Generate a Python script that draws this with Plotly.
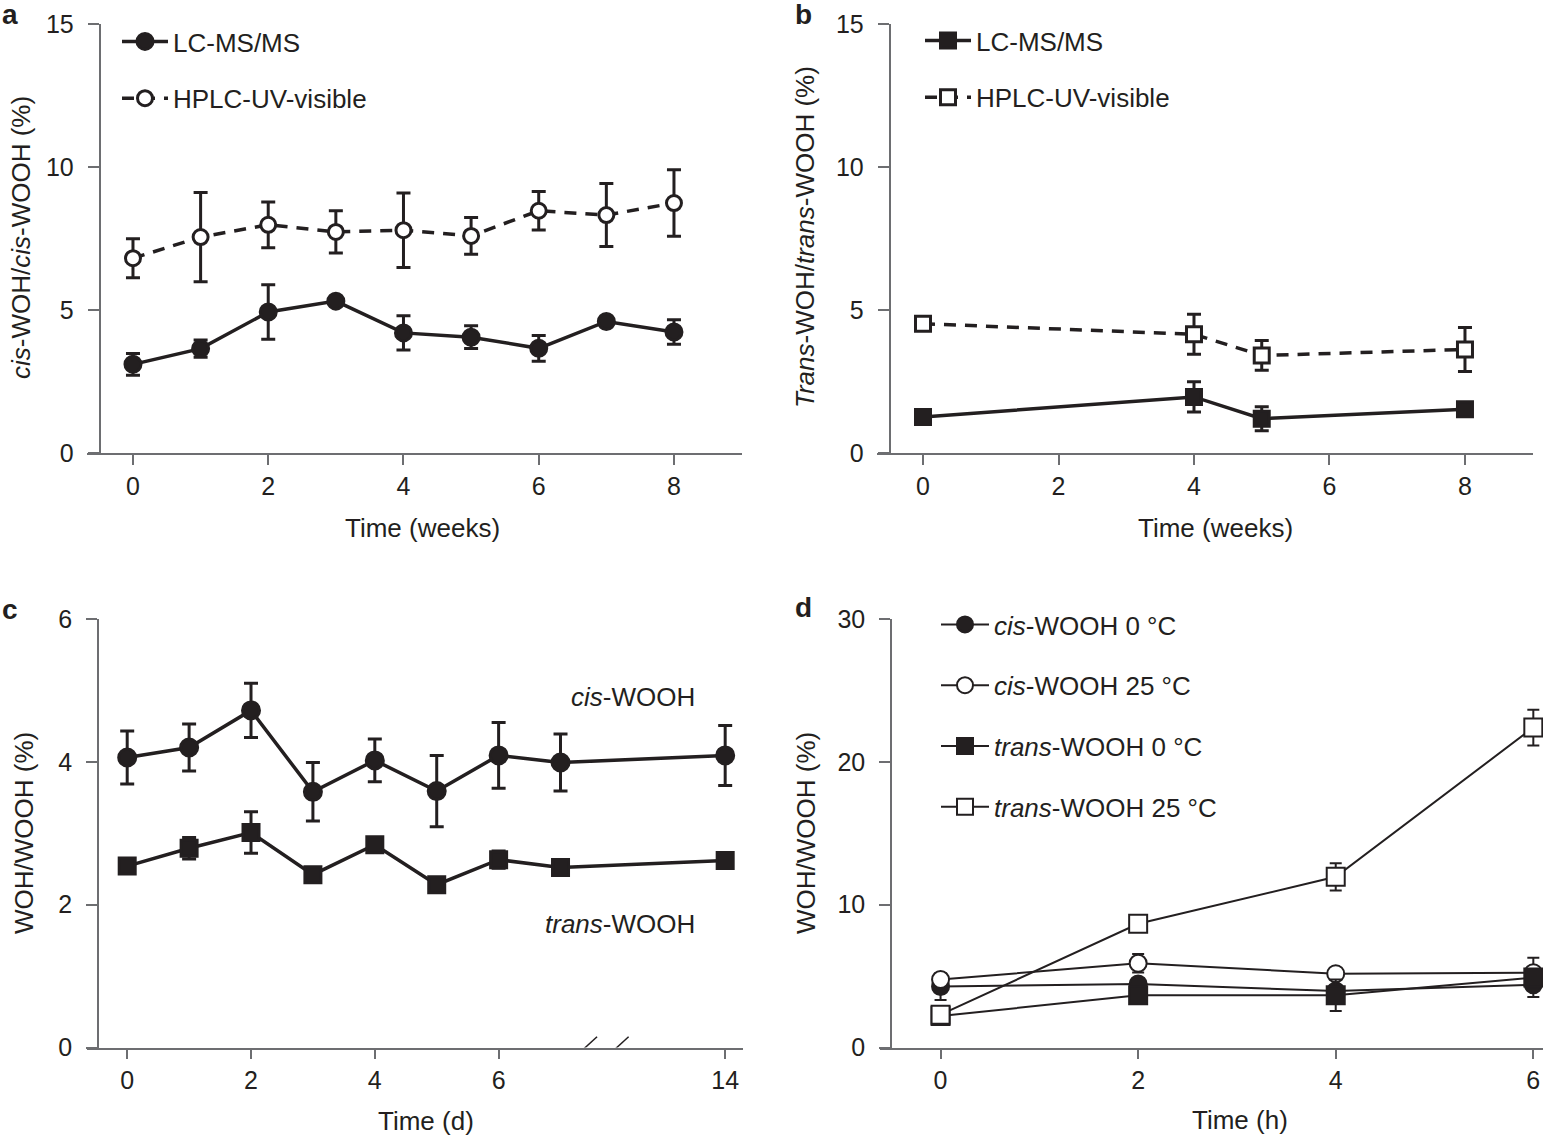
import plotly.graph_objects as go

# ---- data ----
# a: cis-WOH / cis-WOOH over weeks
a_weeks = [0, 1, 2, 3, 4, 5, 6, 7, 8]
a_lcms = [3.1, 3.65, 4.93, 5.31, 4.2, 4.05, 3.66, 4.6, 4.23]
a_lcms_err = [0.38, 0.3, 0.95, 0.0, 0.6, 0.4, 0.45, 0.0, 0.43]
a_hplc = [6.81, 7.55, 7.98, 7.73, 7.79, 7.59, 8.47, 8.32, 8.74]
a_hplc_err = [0.68, 1.56, 0.8, 0.74, 1.3, 0.64, 0.67, 1.1, 1.16]

# b: trans-WOH / trans-WOOH over weeks
b_weeks = [0, 4, 5, 8]
b_lcms = [1.26, 1.96, 1.2, 1.53]
b_lcms_err = [0.0, 0.53, 0.42, 0.0]
b_hplc = [4.52, 4.15, 3.41, 3.62]
b_hplc_err = [0.0, 0.7, 0.52, 0.77]

# c: WOH/WOOH over days (axis broken between 7 and 14)
c_days = [0, 1, 2, 3, 4, 5, 6, 7, 14]
c_cis = [4.06, 4.2, 4.72, 3.58, 4.02, 3.59, 4.09, 3.99, 4.09]
c_cis_err = [0.37, 0.33, 0.38, 0.41, 0.3, 0.5, 0.46, 0.4, 0.42]
c_trans = [2.54, 2.79, 3.01, 2.42, 2.84, 2.28, 2.63, 2.52, 2.62]
c_trans_err = [0.0, 0.15, 0.29, 0.0, 0.0, 0.0, 0.12, 0.0, 0.0]
c_tick_days = [0, 2, 4, 6, 14]

# d: WOH/WOOH over hours at two temperatures
d_hours = [0, 2, 4, 6]
d_cis0 = [4.27, 4.44, 3.95, 4.39]
d_cis0_err = [0.95, 0.4, 0.3, 0.85]
d_cis25 = [4.76, 5.9, 5.17, 5.24]
d_cis25_err = [0.3, 0.65, 0.4, 1.05]
d_trans0 = [2.2, 3.66, 3.66, 4.9]
d_trans0_err = [0.2, 0.3, 1.1, 0.3]
d_trans25 = [2.3, 8.66, 11.95, 22.4]
d_trans25_err = [0.2, 0.3, 0.95, 1.25]

W, H = 1543, 1138
INK = '#231f20'
AXC = '#6d6e71'
FONT = 'Liberation Sans, Arial, Helvetica, sans-serif'


def px_x(p):
    return min(max(p / W, 0), 1)


def px_y(p):
    return min(max(1 - p / H, 0), 1)


def c_pos(day):
    # compress everything after day 7 (axis break)
    return day if day <= 7 else 7 + (day - 7) * 0.38


c_breaks = [7.40, 7.91]

fig = go.Figure()


def add(x, y, err, xa, ya, name, symbol, fill, lw, dash, size, legend, cap, ethick, group):
    fig.add_trace(go.Scatter(
        x=x, y=y, name=name, mode='lines+markers',
        xaxis=xa, yaxis=ya, legend=legend, legendgroup=group,
        showlegend=legend is not None,
        line=dict(color=INK, width=lw, dash=dash),
        marker=dict(symbol=symbol, size=size, color=fill,
                    line=dict(color=INK, width=3 if lw > 2.5 else 2)),
        error_y=dict(type='data', array=err, visible=True, color=INK,
                     thickness=ethick, width=cap),
        cliponaxis=False,
    ))


# panel a
add(a_weeks, a_lcms, a_lcms_err, 'x', 'y', 'LC-MS/MS', 'circle', INK, 3.5,
    'solid', 16, 'legend', 7, 3, 'a1')
add(a_weeks, a_hplc, a_hplc_err, 'x', 'y', 'HPLC-UV-visible', 'circle', 'white',
    3.5, '12px,9px', 15, 'legend', 7, 3, 'a2')

# panel b
add(b_weeks, b_lcms, b_lcms_err, 'x2', 'y2', 'LC-MS/MS', 'square', INK, 3.5,
    'solid', 15, 'legend2', 7, 3, 'b1')
add(b_weeks, b_hplc, b_hplc_err, 'x2', 'y2', 'HPLC-UV-visible', 'square', 'white',
    3.5, '12px,9px', 15, 'legend2', 7, 3, 'b2')

# panel c
c_x = [c_pos(d) for d in c_days]
add(c_x, c_cis, c_cis_err, 'x3', 'y3', 'cis-WOOH', 'circle', INK, 3.5,
    'solid', 17, None, 7, 3, 'c1')
add(c_x, c_trans, c_trans_err, 'x3', 'y3', 'trans-WOOH', 'square', INK, 3.5,
    'solid', 16, None, 7, 3, 'c2')

# panel d
add(d_hours, d_cis0, d_cis0_err, 'x4', 'y4', '<i>cis</i>-WOOH 0 °C', 'circle', INK,
    2, 'solid', 17, 'legend3', 6, 2, 'd1')
add(d_hours, d_cis25, d_cis25_err, 'x4', 'y4', '<i>cis</i>-WOOH 25 °C', 'circle',
    'white', 2, 'solid', 17, 'legend3', 6, 2, 'd2')
add(d_hours, d_trans0, d_trans0_err, 'x4', 'y4', '<i>trans</i>-WOOH 0 °C', 'square',
    INK, 2, 'solid', 18, 'legend3', 6, 2, 'd3')
add(d_hours, d_trans25, d_trans25_err, 'x4', 'y4', '<i>trans</i>-WOOH 25 °C', 'square',
    'white', 2, 'solid', 18, 'legend3', 6, 2, 'd4')

tickfont = dict(family=FONT, size=25, color=INK)


def xax(left, right, rng, ya, tickvals, ticktext=None):
    d = dict(domain=[px_x(left), px_x(right)], range=rng, anchor=ya,
             showgrid=False, zeroline=False, showline=True, linecolor=AXC,
             linewidth=1.5, ticks='outside', ticklen=10, tickwidth=1.5,
             tickcolor=AXC, tickfont=tickfont, tickvals=tickvals,
             automargin=False)
    if ticktext is not None:
        d['ticktext'] = ticktext
    return d


def yax(top, bottom, rng, pos, tickvals):
    return dict(domain=[px_y(bottom), px_y(top)], range=rng, anchor='free',
                position=px_x(pos), showgrid=False, zeroline=False,
                showline=True, linecolor=AXC, linewidth=1.5, ticks='outside',
                ticklen=11, tickwidth=1.5, tickcolor=AXC, tickfont=tickfont,
                tickvals=tickvals, ticklabelstandoff=9, automargin=False)


legfont = dict(family=FONT, size=26, color=INK)

fig.update_layout(
    width=W, height=H,
    margin=dict(l=0, r=0, t=0, b=0, pad=0, autoexpand=False),
    paper_bgcolor='white', plot_bgcolor='white',
    font=dict(family=FONT, color=INK),
    xaxis=xax(87, 742, [-0.68, 9.006], 'y', [0, 2, 4, 6, 8]),
    yaxis=yax(24, 453, [0, 15], 99.5, [0, 5, 10, 15]),
    xaxis2=xax(877, 1533, [-0.679, 9.004], 'y2', [0, 2, 4, 6, 8]),
    yaxis2=yax(24, 453, [0, 15], 889.5, [0, 5, 10, 15]),
    xaxis3=xax(87.4, 742.7, [-0.643, 9.943], 'y3',
               [c_pos(d) for d in c_tick_days], [str(d) for d in c_tick_days]),
    yaxis3=yax(619, 1047.5, [0, 6], 98, [0, 2, 4, 6]),
    xaxis4=xax(880, 1543, [-0.613, 6.098], 'y4', [0, 2, 4, 6]),
    yaxis4=yax(619, 1047.5, [0, 30], 891, [0, 10, 20, 30]),
    legend=dict(x=px_x(117), y=px_y(18), xanchor='left', yanchor='top',
                font=legfont, itemwidth=46, tracegroupgap=20,
                bgcolor='rgba(0,0,0,0)'),
    legend2=dict(x=px_x(920), y=px_y(17), xanchor='left', yanchor='top',
                 font=legfont, itemwidth=46, tracegroupgap=20,
                 bgcolor='rgba(0,0,0,0)'),
    legend3=dict(x=px_x(936), y=px_y(601), xanchor='left', yanchor='top',
                 font=legfont, itemwidth=48, tracegroupgap=24,
                 bgcolor='rgba(0,0,0,0)'),
)

# axis break on the panel c time axis: gap in the line plus two slashes
fig.add_shape(type='line', xref='x3', yref='y3', x0=c_breaks[0], x1=c_breaks[1],
              y0=0, y1=0, line=dict(color='white', width=4))
for b in c_breaks:
    fig.add_shape(type='line', xref='x3', yref='y3', x0=b - 0.19, x1=b + 0.19,
                  y0=-0.15, y1=0.15, line=dict(color=INK, width=1.5))

ann = []
# panel letters
for txt, x, y in [('a', 0, 15), ('b', 793, 15), ('c', 0, 609), ('d', 793, 607)]:
    ann.append(dict(text='<b>%s</b>' % txt, x=px_x(x), y=px_y(y), xanchor='left',
                    yanchor='middle', font=dict(family=FONT, size=28, color=INK)))
# axis titles
for txt, x, y in [('<i>cis</i>-WOH/<i>cis</i>-WOOH (%)', 21, 238),
                  ('<i>Trans</i>-WOH/<i>trans</i>-WOOH (%)', 805, 237),
                  ('WOH/WOOH (%)', 24, 833),
                  ('WOH/WOOH (%)', 806, 833)]:
    ann.append(dict(text=txt, x=px_x(x), y=px_y(y), textangle=-90, xanchor='center',
                    yanchor='middle', font=dict(family=FONT, size=26, color=INK)))
for txt, x, y in [('Time (weeks)', 422, 528), ('Time (weeks)', 1215, 528),
                  ('Time (d)', 426, 1121), ('Time (h)', 1240, 1120)]:
    ann.append(dict(text=txt, x=px_x(x), y=px_y(y), xanchor='center',
                    yanchor='middle', font=dict(family=FONT, size=26, color=INK)))
# series labels in panel c
ann.append(dict(text='<i>cis</i>-WOOH', x=px_x(633), y=px_y(697), xanchor='center',
                yanchor='middle', font=dict(family=FONT, size=26, color=INK)))
ann.append(dict(text='<i>trans</i>-WOOH', x=px_x(620), y=px_y(924), xanchor='center',
                yanchor='middle', font=dict(family=FONT, size=26, color=INK)))
for a in ann:
    a.update(xref='paper', yref='paper', showarrow=False)
fig.update_layout(annotations=ann)

# drop the default body margin so the figure fills the window exactly
fig.write_html("out.html", config={'displayModeBar': False},
               post_script="document.body.style.margin='0';")
